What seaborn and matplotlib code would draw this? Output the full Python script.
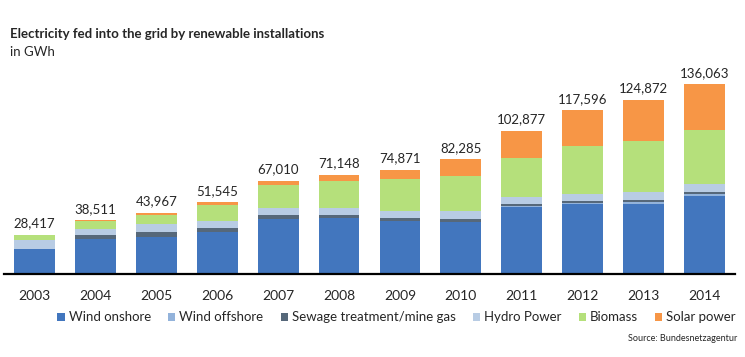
import numpy as np
import pandas as pd
import seaborn as sns
import matplotlib.pyplot as plt

#%%
# Feed-in per source in GWh
years = ['2003', '2004', '2005', '2006', '2007', '2008',
         '2009', '2010', '2011', '2012', '2013', '2014']
wind_onshore = [18300, 25500, 26800, 30500, 39600, 40400, 38200, 37600, 48300, 50000, 50400, 55900]
wind_offshore = [0, 0, 0, 0, 0, 0, 0, 0, 600, 700, 1000, 1300]
sewage_gas = [0, 2600, 3700, 2600, 2800, 2100, 2100, 2100, 1700, 2100, 1500, 1700]
hydro = [6500, 4500, 5200, 5300, 5300, 5000, 5000, 5700, 4800, 4500, 6300, 5700]
biomass = [3300, 5400, 7000, 11000, 16400, 19300, 22900, 25000, 27900, 34800, 36400, 38700]
solar = [317, 511, 1267, 2145, 2910, 4348, 6671, 11885, 19577, 25496, 29272, 32763]

sources = ['Wind onshore', 'Wind offshore', 'Sewage treatment/mine gas',
           'Hydro Power', 'Biomass', 'Solar power']
colors = ['#4276BE', '#93B3DB', '#56687A', '#B8CCE4', '#B5E07B', '#F79646']

df = pd.DataFrame(
    np.array([wind_onshore, wind_offshore, sewage_gas, hydro, biomass, solar]).T,
    index=years, columns=sources)
cum = df.cumsum(axis=1)
cum['year'] = years

#%%
sns.set_style('white')
plt.rcParams['font.family'] = ['Lato', 'DejaVu Sans']

fig = plt.figure(figsize=(7.45, 3.57), dpi=100)
ax = fig.add_axes([0.0055, 0.2317, 0.981, 0.587])

# stacked bars: draw the cumulative totals from the top layer down
for src, col in zip(reversed(sources), reversed(colors)):
    sns.barplot(data=cum, x='year', y=src, color=col, width=0.67,
                saturation=1, ax=ax, label=src, linewidth=0, edgecolor='none')

totals = df.sum(axis=1).values
for i, t in enumerate(totals):
    ax.text(i, t + 3800, f'{t:,.0f}', ha='center', va='bottom', fontsize=9.5)

ax.set_ylim(0, 150000)
ax.set_xlim(-0.5, 11.5)
ax.set_xlabel('')
ax.set_ylabel('')
ax.set_yticks([])
ax.tick_params(axis='x', length=0, labelsize=10, pad=11)
for s in ['left', 'right', 'top']:
    ax.spines[s].set_visible(False)
ax.spines['bottom'].set_color('black')
ax.spines['bottom'].set_linewidth(1.6)

handles, labels = ax.get_legend_handles_labels()
order = [labels.index(s) for s in sources]
ax.legend([handles[k] for k in order], sources, loc='center', ncol=6,
          bbox_to_anchor=(0.537, -0.205), frameon=False, fontsize=9.5,
          handlelength=0.55, handleheight=0.55, handletextpad=0.3,
          columnspacing=1.3, borderaxespad=0)

fig.text(0.013, 0.905, 'Electricity fed into the grid by renewable installations',
         fontsize=9.5, fontweight='bold', va='center')
fig.text(0.013, 0.855, 'in GWh', fontsize=9.5, va='center')
fig.text(0.99, 0.052, 'Source: Bundesnetzagentur', fontsize=6.5, ha='right', va='center')

fig.savefig('out.png', dpi=100)
